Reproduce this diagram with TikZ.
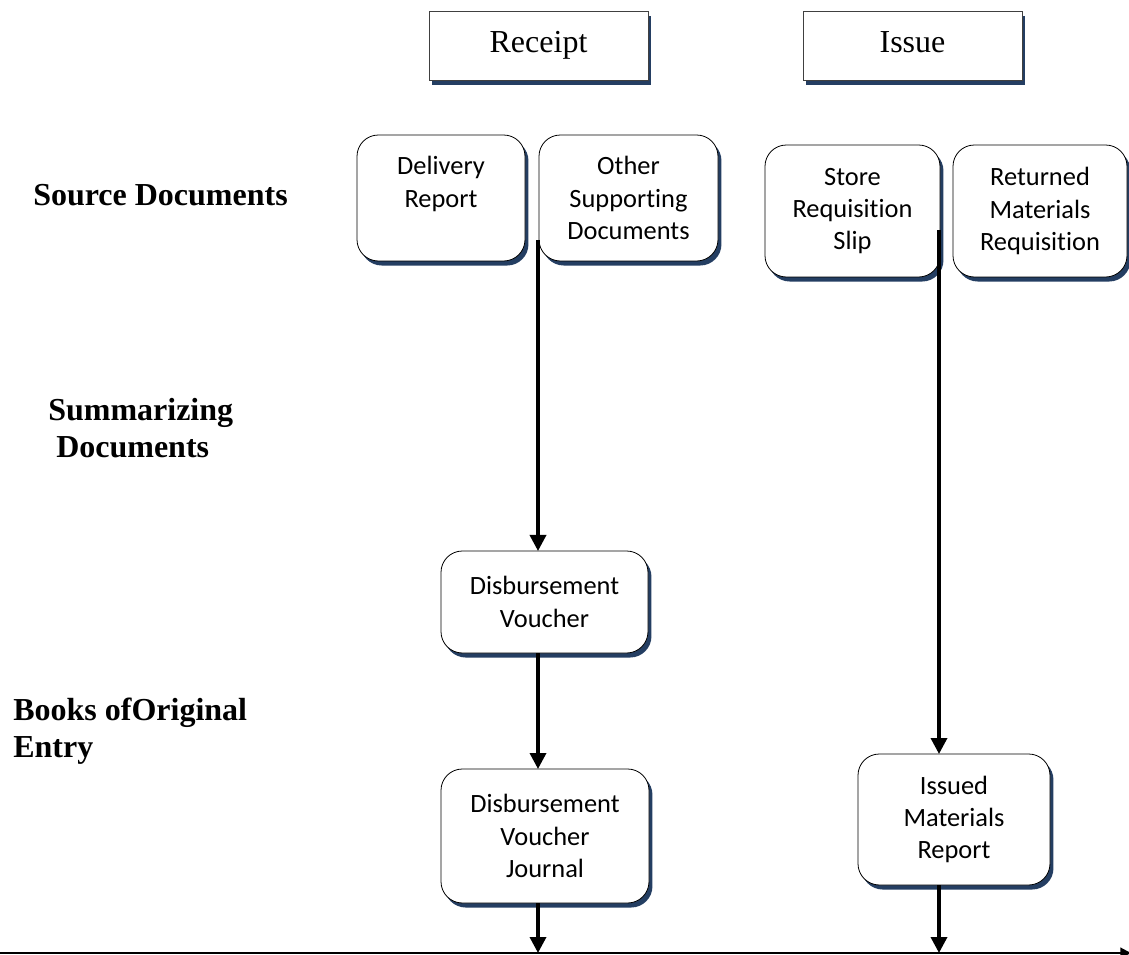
\documentclass[tikz,border=0pt]{standalone}
\usepackage{fontspec}
\setmainfont{Liberation Serif}
\newfontfamily\boxfont[Ligatures={NoCommon}]{Carlito}
\usetikzlibrary{arrows.meta,shadows}
\definecolor{shade}{RGB}{36,62,98}

\begin{document}
\begin{tikzpicture}[x=0.75pt,y=-0.75pt,
  doc/.style = {rectangle,rounded corners=16pt,draw=black,line width=0.6pt,fill=white,
                align=center,inner sep=0pt,outer sep=0pt,
                font=\boxfont\fontsize{19.8}{24.2}\selectfont,
                general shadow={fill=shade,shadow xshift=2.6pt,shadow yshift=-3.4pt}},
  head/.style = {rectangle,draw=black!75,line width=0.7pt,fill=white,inner sep=0pt,outer sep=0pt,
                 minimum width=164.25pt,minimum height=51.75pt,text height=16pt,text depth=5pt,
                 font=\fontsize{24}{28}\selectfont,
                 general shadow={fill=shade,shadow xshift=2.4pt,shadow yshift=-3.6pt}},
  lbl/.style = {anchor=west,align=left,inner sep=0pt,font=\bfseries\fontsize{24}{27.75}\selectfont},
  flow/.style = {line width=2.6pt,-{Triangle[length=12pt,width=12pt]}}]
\useasboundingbox (0,0) rectangle (1129,955);

% column headings
\node[head] (receipt) at (538.5,45.5) {Receipt};
\node[head] (issue) at (912.5,45.5) {Issue};

% row labels
\node[lbl] (srclbl) at (33,195) {Source Documents};
\node[lbl] (sumlbl) at (48,428.5) {Summarizing\\\hspace*{0.25em}Documents};
\node[lbl] (booklbl) at (13,731.5) {Books ofOriginal\\Entry};

% source documents
\node[doc,minimum width=126pt,minimum height=94.5pt] (delivery) at (441,198) {Delivery\\Report\\\mbox{}};
\node[doc,minimum width=134.25pt,minimum height=94.5pt] (other) at (628.5,198) {Other\\Supporting\\Documents};
\node[doc,minimum width=131.25pt,minimum height=99pt] (store) at (852.5,211) {Store\\Requisition\\Slip};
\node[doc,minimum width=130.5pt,minimum height=99pt] (returned) at (1040,211) {Returned\\Materials\\Requisition};

% summaries and books
\node[doc,minimum width=155.25pt,minimum height=76.5pt] (voucher) at (544.5,602) {Disbursement\\Voucher};
\node[doc,minimum width=156pt,minimum height=100.5pt] (journal) at (545,836) {Disbursement\\Voucher\\Journal};
\node[doc,minimum width=144pt,minimum height=98.25pt] (issued) at (954,819.5) {Issued\\Materials\\Report};

% columns of the flow lines and the bottom axis
\coordinate (colA) at (538,0);
\coordinate (colB) at (939,0);
\coordinate (axl) at (0,953);
\coordinate (axr) at (1131,953);
\coordinate (otherout) at ([yshift=15.75pt]other.south west);
\coordinate (storeout) at ([yshift=35.25pt]store.south east);

\draw[flow] (otherout -| colA) -- (voucher.north -| colA);
\draw[flow] (voucher.south -| colA) -- (journal.north -| colA);
\draw[flow] (journal.south -| colA) -- (colA |- axl);
\draw[flow] (storeout -| colB) -- (issued.north -| colB);
\draw[flow] (issued.south -| colB) -- (colB |- axl);
\draw[line width=1.5pt,-{Triangle[length=8pt,width=8pt]}] (axl) -- (axr);
\end{tikzpicture}
\end{document}
